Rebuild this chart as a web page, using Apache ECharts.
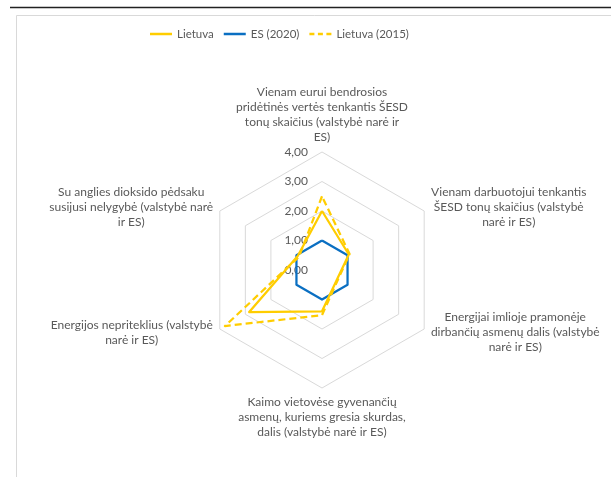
<!DOCTYPE html>
<html><head><meta charset="utf-8">
<script src="https://cdn.jsdelivr.net/npm/echarts@6/dist/echarts.min.js"></script>
<style>html,body{margin:0;padding:0;background:#fff}#c{width:611px;height:477px}</style>
</head><body><div id="c"></div>
<script>
// Indicators in ECharts order: top first, then counter-clockwise
const categories = [
  "Vienam eurui bendrosios\npridėtinės vertės tenkantis ŠESD\ntonų skaičius (valstybė narė ir\nES)",
  "Su anglies dioksido pėdsaku\nsusijusi nelygybė (valstybė narė\nir ES)",
  "Energijos nepriteklius (valstybė\nnarė ir ES)",
  "Kaimo vietovėse gyvenančių\nasmenų, kuriems gresia skurdas,\ndalis (valstybė narė ir ES)",
  "Energijai imlioje pramonėje\ndirbančių asmenų dalis (valstybė\nnarė ir ES)",
  "Vienam darbuotojui tenkantis\nŠESD tonų skaičius (valstybė\nnarė ir ES)"
];
const seriesNames = ["Lietuva", "ES (2020)", "Lietuva (2015)"];
const lietuva = [2.0, 0.95, 2.85, 1.4, 0.6, 1.05];
const es2020 = [1, 1, 1, 1, 1, 1];
const lietuva2015 = [2.5, 0.9, 3.8, 1.53, 0.63, 1.08];
const tickValues = [0, 1, 2, 3, 4];
const tickLabels = ["0,00", "1,00", "2,00", "3,00", "4,00"];

const FONT = 'Lato';
const FS = 12;
const TXT = '#595959';
const YEL = '#FFCD00';
const BLU = '#0A6FC2';

const cv = document.createElement('canvas').getContext('2d');
cv.font = FS + 'px ' + FONT;
function blockWidth(s) { return Math.ceil(Math.max.apply(null, s.split('\n').map(l => cv.measureText(l).width))) + 1; }

const rich = {};
categories.forEach((c, i) => { rich['n' + i] = { width: blockWidth(c), align: 'center', fontFamily: FONT, fontSize: FS, color: TXT, lineHeight: 15 }; });

const indicator = categories.map((c, i) => {
  const o = { name: c, min: 0, max: 4 };
  if (i === 0) {
    o.axisLabel = {
      show: true, color: TXT, fontFamily: FONT, fontSize: FS, margin: 14,
      formatter: v => tickLabels[tickValues.indexOf(Math.round(v))] || ''
    };
  }
  return o;
});

const chart = echarts.init(document.getElementById('c'));
chart.setOption({
  animation: false,
  backgroundColor: '#fff',
  graphic: [
    { type: 'line', shape: { x1: 10, y1: 7.5, x2: 611, y2: 7.5 }, style: { stroke: '#222', lineWidth: 1.5 } },
    { type: 'rect', shape: { x: 16.5, y: 15.5, width: 700, height: 600 }, style: { fill: 'none', stroke: '#d9d9d9', lineWidth: 1 } }
  ],
  legend: {
    top: 23, left: 145, itemGap: 10, itemWidth: 22, itemHeight: 3,
    textStyle: { color: TXT, fontFamily: FONT, fontSize: 11.5 },
    data: [
      { name: seriesNames[0], icon: 'path://M0,0h22v2.5h-22z' },
      { name: seriesNames[1], icon: 'path://M0,0h22v2.5h-22z' },
      { name: seriesNames[2], icon: 'path://M0,0h5v2.5h-5zM8.5,0h5v2.5h-5zM17,0h5v2.5h-5z' }
    ]
  },
  radar: {
    center: [322, 270], radius: 118, startAngle: 90, splitNumber: 4, shape: 'polygon',
    nameGap: 7,
    axisName: {
      color: TXT, fontFamily: FONT, fontSize: FS, lineHeight: 15,
      formatter: (name) => { const i = categories.indexOf(name); return name.split('\n').map(l => '{n' + i + '|' + l + '}').join('\n'); },
      rich: rich
    },
    axisLine: { show: false },
    axisTick: { show: false },
    axisLabel: { show: false },
    splitLine: { lineStyle: { color: '#d9d9d9', width: 1 } },
    splitArea: { show: false },
    indicator: indicator
  },
  series: [{
    type: 'radar', symbol: 'none',
    data: [
      { name: seriesNames[1], value: es2020, itemStyle: { color: BLU }, lineStyle: { color: BLU, width: 2.25 } },
      { name: seriesNames[2], value: lietuva2015, itemStyle: { color: YEL }, lineStyle: { color: YEL, width: 2.25, type: [7, 4] } },
      { name: seriesNames[0], value: lietuva, itemStyle: { color: YEL }, lineStyle: { color: YEL, width: 2.25 } }
    ]
  }]
});
</script>
</body></html>
